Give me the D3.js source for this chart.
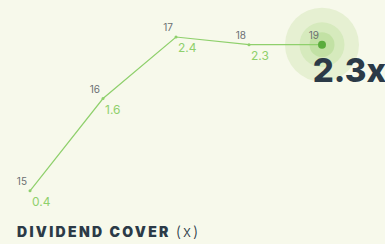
<!DOCTYPE html>
<html>
<head>
<meta charset="utf-8">
<script src="https://cdn.jsdelivr.net/npm/d3@7"></script>
<style>
  html, body { margin: 0; padding: 0; background: #f7f9eb; }
  svg { display: block; font-family: Inter, "Noto Sans", sans-serif; }
</style>
</head>
<body>
<div id="chart"></div>
<script>
const years = ['15', '16', '17', '18', '19'];
const cover = [0.4, 1.6, 2.4, 2.3, 2.3];
const headline = '2.3x';

const width = 385, height = 244;

const svg = d3.select('#chart').append('svg')
        .attr('width', width)
        .attr('height', height);

svg.append('rect').attr('width', width).attr('height', height).attr('fill', '#f7f9eb');

const x = d3.scalePoint().domain(years).range([30, 322]);
const y = d3.scaleLinear().domain([0, 2.4]).range([221.6, 37]);

const last = years.length - 1;
const cx = x(years[last]), cy = y(cover[last]);

// halo round the latest point
[[37, '#e6f0d2'], [22.5, '#d6eabd'], [12.5, '#c2e1a4']].forEach(([r, c]) => {
        svg.append('circle').attr('cx', cx).attr('cy', cy).attr('r', r).attr('fill', c);
});

const line = d3.line().x((d, i) => x(years[i])).y(d => y(d));
svg.append('path')
        .datum(cover)
        .attr('d', line)
        .attr('fill', 'none')
        .attr('stroke', '#8fd06c')
        .attr('stroke-width', 1.2);

svg.selectAll('.dot')
        .data(cover)
        .join('circle')
        .attr('cx', (d, i) => x(years[i]))
        .attr('cy', d => y(d))
        .attr('r', (d, i) => i === last ? 4 : 1.5)
        .attr('fill', (d, i) => i === last ? '#5aac3c' : '#8fd06c');

svg.selectAll('.yr')
        .data(years)
        .join('text')
        .attr('x', d => x(d) - 3)
        .attr('y', (d, i) => y(cover[i]) - 6)
        .attr('text-anchor', 'end')
        .attr('font-size', 10)
        .attr('fill', '#6b6f72')
        .text(d => d);

svg.selectAll('.val')
        .data(cover.slice(0, last))
        .join('text')
        .attr('x', (d, i) => x(years[i]) + 2)
        .attr('y', d => y(d) + 15)
        .attr('font-size', 12)
        .attr('fill', '#8fd06c')
        .text(d => d.toFixed(1));

svg.append('text')
        .attr('x', 386)
        .attr('y', 82)
        .attr('text-anchor', 'end')
        .attr('font-size', 33)
        .attr('font-weight', 800)
        .attr('fill', '#2b3a47')
        .text(headline);

const title = svg.append('text')
        .attr('x', 17)
        .attr('y', 237)
        .attr('font-size', 14)
        .attr('fill', '#2b3a47');
title.append('tspan').attr('font-weight', 900).attr('letter-spacing', 2.3).text('DIVIDEND COVER ');
title.append('tspan').attr('font-weight', 300).attr('font-size', 15).attr('letter-spacing', 2).text('(x)');
</script>
</body>
</html>
